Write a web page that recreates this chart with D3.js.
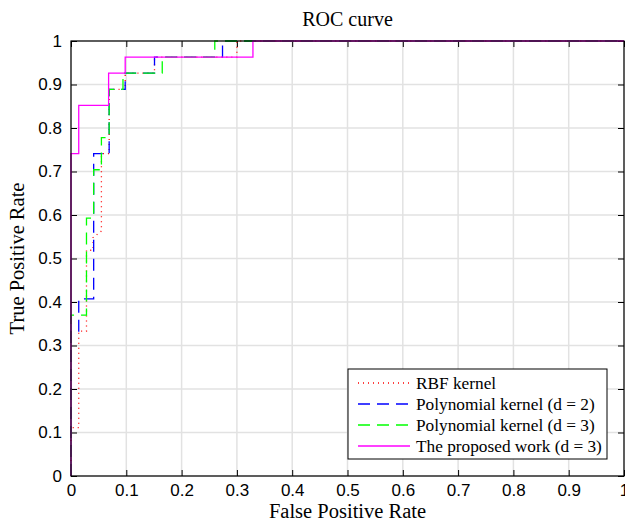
<!DOCTYPE html>
<html>
<head>
<meta charset="utf-8">
<script src="https://cdn.jsdelivr.net/npm/d3@7"></script>
<style>
  body { margin: 0; background: #fff; }
  svg text { fill: #000; }
</style>
</head>
<body>
<div id="chart"></div>
<script>
/***** data *****/
var ticks = [0, 0.1, 0.2, 0.3, 0.4, 0.5, 0.6, 0.7, 0.8, 0.9, 1];
var seriesNames = ["RBF kernel", "Polynomial kernel (d = 2)", "Polynomial kernel (d = 3)", "The proposed work (d = 3)"];

// step points (FPR, TPR)
var rbfFpr  = [0, 0, 0.014, 0.014, 0.028, 0.028, 0.040, 0.040, 0.055, 0.055, 0.069, 0.069, 0.098, 0.098, 0.151, 0.151, 0.30, 0.30, 1];
var rbfTpr  = [0, 0.111, 0.111, 0.333, 0.333, 0.519, 0.519, 0.548, 0.563, 0.741, 0.741, 0.889, 0.889, 0.926, 0.926, 0.963, 0.963, 1, 1];

var poly2Fpr = [0, 0, 0.014, 0.014, 0.041, 0.041, 0.069, 0.069, 0.098, 0.098, 0.151, 0.151, 0.274, 0.274, 1];
var poly2Tpr = [0, 0.333, 0.333, 0.407, 0.407, 0.741, 0.741, 0.889, 0.889, 0.926, 0.926, 0.963, 0.963, 1, 1];

var poly3Fpr = [0, 0, 0.028, 0.028, 0.041, 0.041, 0.055, 0.055, 0.069, 0.069, 0.094, 0.094, 0.165, 0.165, 0.26, 0.26, 1];
var poly3Tpr = [0, 0.370, 0.370, 0.593, 0.593, 0.704, 0.704, 0.778, 0.778, 0.889, 0.889, 0.926, 0.926, 0.963, 0.963, 1, 1];

var propFpr = [0, 0, 0.014, 0.014, 0.068, 0.068, 0.098, 0.098, 0.329, 0.329, 1];
var propTpr = [0, 0.741, 0.741, 0.852, 0.852, 0.926, 0.926, 0.963, 0.963, 1, 1];

var colors = ["#ff0000", "#0000ff", "#00ff00", "#ff00ff"];
var dashes = ["1,4", "12,7", "12,7", null];

/***** layout *****/
var W = 625, H = 524;
var margin = {top: 41, right: 1, bottom: 48, left: 71};
var width = W - margin.left - margin.right;   // 553
var height = H - margin.top - margin.bottom;  // 435

var svg = d3.select("#chart").append("svg")
  .attr("width", W)
  .attr("height", H);

var g = svg.append("g")
  .attr("transform", "translate(" + margin.left + "," + margin.top + ")");

var x = d3.scaleLinear().domain([0, 1]).range([0, width]);
var y = d3.scaleLinear().domain([0, 1]).range([height, 0]);

var fmt = function(d){ return d === 0 ? "0" : d === 1 ? "1" : d3.format(".1f")(d); };

//grid
g.append("g").selectAll("line").data(ticks).enter().append("line")
  .attr("x1", function(d){ return x(d); }).attr("x2", function(d){ return x(d); })
  .attr("y1", 0).attr("y2", height)
  .attr("stroke", "#e2e2e2").attr("stroke-width", 1.5);
g.append("g").selectAll("line").data(ticks).enter().append("line")
  .attr("y1", function(d){ return y(d); }).attr("y2", function(d){ return y(d); })
  .attr("x1", 0).attr("x2", width)
  .attr("stroke", "#e2e2e2").attr("stroke-width", 1.5);

//axes
var xAxis = d3.axisBottom(x).tickValues(ticks).tickFormat(fmt).tickSizeInner(-6).tickSizeOuter(0).tickPadding(8);
var yAxis = d3.axisLeft(y).tickValues(ticks).tickFormat(fmt).tickSizeInner(-6).tickSizeOuter(0).tickPadding(9);
var xTop = d3.axisTop(x).tickValues(ticks).tickFormat("").tickSizeInner(-6).tickSizeOuter(0);
var yRight = d3.axisRight(y).tickValues(ticks).tickFormat("").tickSizeInner(-6).tickSizeOuter(0);

var axStyle = function(sel){
  sel.selectAll(".domain").remove();
  sel.selectAll("line").attr("stroke", "#000");
  sel.selectAll("text").attr("font-family", "'Liberation Sans', Arial, sans-serif").attr("font-size", 17);
};
g.append("g").attr("transform", "translate(0," + height + ")").call(xAxis).call(axStyle);
g.append("g").call(yAxis).call(axStyle);
g.append("g").call(xTop).call(axStyle);
g.append("g").attr("transform", "translate(" + width + ",0)").call(yRight).call(axStyle);

//curves
var line = d3.line()
  .x(function(d){ return x(d[0]); })
  .y(function(d){ return y(d[1]); });

var curves = [
  d3.zip(rbfFpr, rbfTpr),
  d3.zip(poly2Fpr, poly2Tpr),
  d3.zip(poly3Fpr, poly3Tpr),
  d3.zip(propFpr, propTpr)
];

curves.forEach(function(c, i){
  g.append("path")
    .attr("d", line(c))
    .attr("fill", "none")
    .attr("stroke", colors[i])
    .attr("stroke-width", 1.3)
    .attr("stroke-dasharray", dashes[i]);
});

//box
g.append("rect")
  .attr("width", width).attr("height", height)
  .attr("fill", "none").attr("stroke", "#000").attr("stroke-width", 1.2);

//legend
var serif = "'Liberation Serif', 'Times New Roman', serif";
var lg = svg.append("g").attr("transform", "translate(348,369)");
lg.append("rect").attr("width", 259).attr("height", 90)
  .attr("fill", "#fff").attr("stroke", "#000").attr("stroke-width", 1);
seriesNames.forEach(function(name, i){
  var yy = 14 + i * 21;
  lg.append("line")
    .attr("x1", 10).attr("x2", 62).attr("y1", yy).attr("y2", yy)
    .attr("stroke", colors[i]).attr("stroke-width", 1.3)
    .attr("stroke-dasharray", dashes[i]);
  lg.append("text")
    .attr("x", 68).attr("y", yy + 5.5)
    .attr("font-family", serif)
    .attr("font-size", 17.3)
    .text(name);
});

//titles
svg.append("text")
  .attr("x", margin.left + width / 2).attr("y", 26)
  .attr("text-anchor", "middle")
  .attr("font-family", serif).attr("font-size", 20)
  .text("ROC curve");
svg.append("text")
  .attr("x", margin.left + width / 2).attr("y", 518)
  .attr("text-anchor", "middle")
  .attr("font-family", serif).attr("font-size", 20.5)
  .text("False Positive Rate");
svg.append("text")
  .attr("transform", "translate(24," + (margin.top + height / 2) + ") rotate(-90)")
  .attr("text-anchor", "middle")
  .attr("font-family", serif).attr("font-size", 20.5)
  .text("True Positive Rate");
</script>
</body>
</html>
